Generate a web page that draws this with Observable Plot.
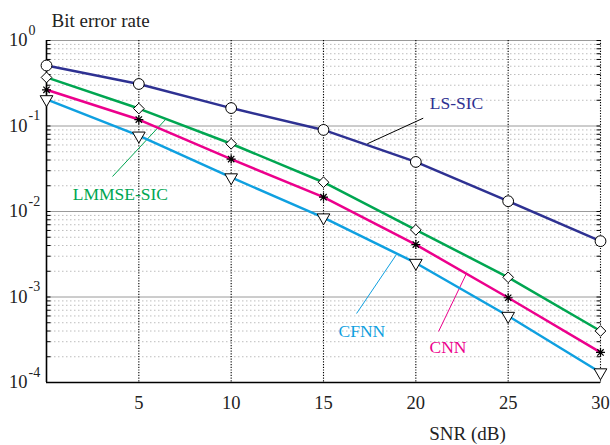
<!DOCTYPE html>
<html>
<head>
<meta charset="utf-8">
<script src="https://cdn.jsdelivr.net/npm/d3@7"></script>
<script src="https://cdn.jsdelivr.net/npm/@observablehq/plot@0.6"></script>
<style>
  html, body { margin: 0; padding: 0; background: #fff; }
</style>
</head>
<body>
<div id="chart"></div>
<script>
// ---- data ----
const snr = [0, 5, 10, 15, 20, 25, 30];
const lsSic   = [0.51, 0.31, 0.162, 0.09, 0.038, 0.0132, 0.0045];
const lmmseSic = [0.37, 0.16, 0.062, 0.022, 0.0061, 0.0017, 0.0004];
const cnn     = [0.265, 0.119, 0.041, 0.0147, 0.0041, 0.00098, 0.000225];
const cfnn    = [0.205, 0.077, 0.025, 0.0085, 0.0025, 0.0006, 0.000131];

const seriesNames  = ["LS-SIC", "LMMSE-SIC", "CNN", "CFNN"];
const seriesValues = [lsSic, lmmseSic, cnn, cfnn];
const seriesColors = ["#2e3192", "#00a651", "#ec008c", "#0fa0e0"];

const xTicks = [5, 10, 15, 20, 25, 30];
const xGrid = [5, 10, 15, 20, 25, 30];
const yDecades = [1, 0.1, 0.01, 0.001, 0.0001];
const yExponents = ["0", "-1", "-2", "-3", "-4"];
const minorMultiples = [2, 3, 4, 5, 6, 7, 8, 9];

// annotations (data coordinates)
const labelNames = ["LS-SIC", "LMMSE-SIC", "CFNN", "CNN"];
const labelColors = ["#2e3192", "#00a651", "#0fa0e0", "#ec008c"];
const labelX = [22.2, 4.0, 17.08, 21.74];
const labelY = [0.160, 0.0138, 0.000345, 0.000224];
const leaderColors = ["#000000", "#00a651", "#0fa0e0", "#ec008c"];
const leaderX1 = [20.4, 3.574, 16.79, 21.23];
const leaderY1 = [0.1234, 0.02566, 0.000641, 0.000395];
const leaderX2 = [17.37, 6.498, 18.95, 22.74];
const leaderY2 = [0.0619, 0.1224, 0.00314, 0.00188];

// ---- derived tables ----
const minorVals = yDecades.slice(1).flatMap(d => minorMultiples.map(m => m * d));
const allTickVals = minorVals.concat(yDecades);
const labels = labelNames.map((n, i) => ({name: n, x: labelX[i], y: labelY[i], color: labelColors[i]}));
const leaders = leaderX1.map((x1, i) => ({x1, y1: leaderY1[i], x2: leaderX2[i], y2: leaderY2[i], color: leaderColors[i]}));
const yLab = yDecades.map((v, i) => ({v, e: yExponents[i]}));

function seriesData(i) {
  return snr.map((x, j) => ({x, y: seriesValues[i][j]}));
}

const FONT = "Liberation Serif";

// custom symbols
const tickRight = {draw(c) { c.moveTo(0, 0); c.lineTo(4, 0); }};
const tickLeft = {draw(c) { c.moveTo(0, 0); c.lineTo(-4, 0); }};
const starSym = {draw(c) {
  const r = 4.5;
  for (let k = 0; k < 4; k++) {
    const a = k * Math.PI / 4;
    c.moveTo(-r * Math.cos(a), -r * Math.sin(a));
    c.lineTo(r * Math.cos(a), r * Math.sin(a));
  }
}};

const markerStyles = [
  {symbol: "circle", r: 5.4, fill: "white", stroke: "black", strokeWidth: 1},
  {symbol: "diamond2", r: 4.8, fill: "white", stroke: "black", strokeWidth: 1},
  {symbol: starSym, r: 4, fill: "none", stroke: "black", strokeWidth: 1.2},
  {symbol: "triangle", r: 4.7, rotate: 180, fill: "white", stroke: "black", strokeWidth: 1}
];

const marks = [
  Plot.ruleY(minorVals, {stroke: "#bdbdbd", strokeDasharray: "1.5,2.5", strokeWidth: 1}),
  Plot.ruleY(yDecades, {stroke: "#9a9a9a", strokeWidth: 1}),
  Plot.ruleX(xGrid, {stroke: "#000", strokeDasharray: "1.2,1.5", strokeWidth: 1.1}),
  Plot.ruleX([0], {stroke: "#000", strokeWidth: 1.6}),
  Plot.ruleY([0.0001], {stroke: "#000", strokeWidth: 1.6}),
  Plot.dot(allTickVals, {x: () => 0, y: d => d, symbol: tickRight, stroke: "#000", fill: "none", strokeWidth: 1}),
  Plot.dot(allTickVals, {x: () => 30, y: d => d, symbol: tickLeft, stroke: "#000", fill: "none", strokeWidth: 1}),
  Plot.link(leaders, {x1: "x1", y1: "y1", x2: "x2", y2: "y2", stroke: d => d.color, strokeWidth: 1})
];

seriesNames.forEach((name, i) => {
  marks.push(Plot.line(seriesData(i), {x: "x", y: "y", stroke: seriesColors[i], strokeWidth: 2.5}));
});
seriesNames.forEach((name, i) => {
  marks.push(Plot.dot(seriesData(i), {x: "x", y: "y", ...markerStyles[i]}));
});

marks.push(
  Plot.text(labels, {x: "x", y: "y", text: "name", fill: d => d.color, fontSize: 17.5, fontFamily: FONT, textAnchor: "middle", lineAnchor: "bottom"}),
  Plot.text(yLab, {x: () => 0, y: "v", text: () => "10", fontSize: 18.5, fontFamily: FONT, textAnchor: "end", lineAnchor: "middle", dx: -19, fill: "#222"}),
  Plot.text(yLab, {x: () => 0, y: "v", text: "e", fontSize: 14, fontFamily: FONT, textAnchor: "start", lineAnchor: "bottom", dx: -18, dy: -6, fill: "#222"}),
  Plot.axisX({ticks: xTicks, tickSize: 0, tickPadding: 13, fontSize: 18.5, fontFamily: FONT, tickFormat: d => String(d), label: null, fill: "#222"}),
  Plot.text(["SNR (dB)"], {frameAnchor: "bottom", textAnchor: "middle", lineAnchor: "bottom", dx: 144, dy: 57, fontSize: 19, fontFamily: FONT, fill: "#222"}),
  Plot.text(["Bit error rate"], {frameAnchor: "top-left", textAnchor: "start", lineAnchor: "bottom", dx: 5, dy: -14, fontSize: 19, fontFamily: FONT, fill: "#222"})
);

const chart = Plot.plot({
  width: 610,
  height: 445,
  marginLeft: 46,
  marginRight: 10,
  marginTop: 40,
  marginBottom: 63,
  style: {fontFamily: FONT, background: "white", color: "black"},
  x: {domain: [0, 30]},
  y: {type: "log", domain: [0.0001, 1], axis: null},
  color: {type: "identity"},
  marks
});
document.getElementById("chart").appendChild(chart);
</script>
</body>
</html>
